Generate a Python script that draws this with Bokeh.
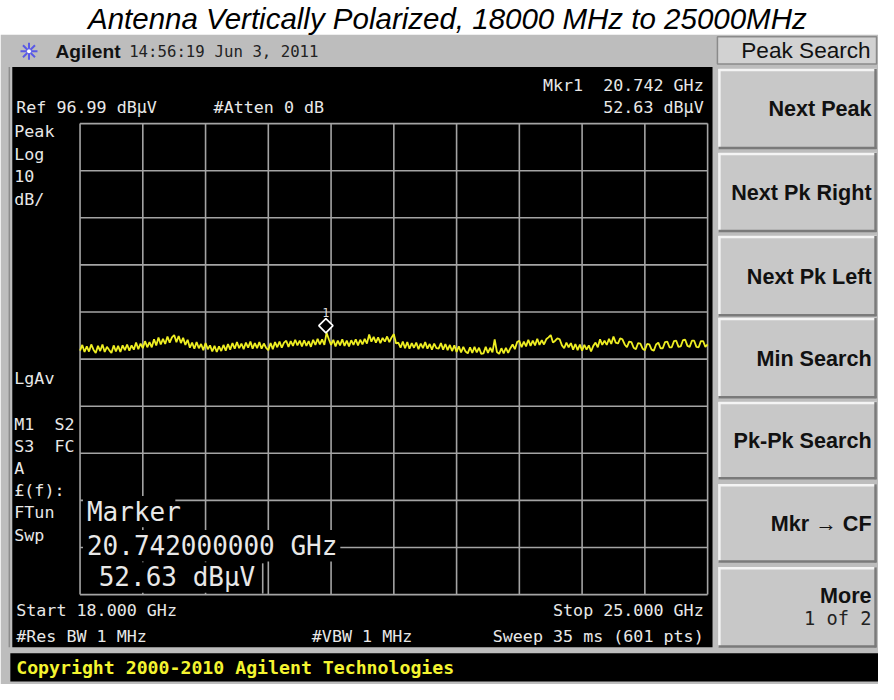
import numpy as np
from bokeh.plotting import figure
from bokeh.models import Range1d, Label
from bokeh.embed import file_html
from bokeh.resources import INLINE

# ---------------- data ----------------
title_text = "Antenna Vertically Polarized, 18000 MHz to 25000MHz"
freq_start = 18.0          # GHz
freq_stop = 25.0           # GHz
ref_level = 96.99          # dBuV (top of grid)
db_per_div = 10.0
n_div = 10
marker_freq = 20.742       # GHz
marker_level = 52.63       # dBuV
sweep_points = 601

# trace (dBuV), evenly spaced sweep points 18 -> 25 GHz (0.025 GHz apart)
trace_level = [
    48.8, 50.0, 48.5, 49.7, 48.6, 50.1, 49.0, 48.3, 49.8, 48.7, 50.1, 48.5, 49.6, 48.9, 48.3, 49.9, 48.6, 49.8, 48.5, 49.9,
    48.9, 50.1, 48.8, 49.9, 49.0, 50.5, 49.1, 50.3, 49.3, 50.8, 49.5, 50.6, 49.5, 51.2, 49.9, 51.6, 50.1, 51.3, 50.2, 51.8,
    50.5, 51.6, 52.1, 50.6, 51.9, 50.4, 51.5, 50.0, 51.1, 49.4, 50.5, 49.2, 50.6, 49.3, 50.2, 48.9, 50.4, 49.1, 49.9, 48.6,
    49.8, 48.5, 49.7, 48.7, 50.0, 48.8, 50.2, 49.0, 50.4, 49.2, 50.6, 49.3, 50.3, 49.1, 50.5, 49.4, 50.7, 49.2, 50.4, 49.3,
    50.6, 49.2, 50.3, 49.4, 48.9, 50.4, 49.1, 50.6, 49.5, 50.7, 49.4, 50.5, 50.9, 49.6, 50.8, 49.8, 51.1, 49.9, 50.9, 49.7,
    51.0, 49.8, 50.8, 49.6, 51.1, 50.0, 51.3, 50.1, 51.2, 50.0, 52.6, 51.2, 50.0, 51.1, 49.7, 50.9, 49.9, 51.2, 49.8, 50.9,
    49.7, 51.0, 50.0, 51.2, 49.9, 51.1, 50.1, 51.3, 50.3, 52.2, 50.7, 51.7, 50.5, 51.6, 50.4, 51.5, 50.7, 51.8, 50.6, 51.6,
    52.3, 50.3, 50.5, 49.4, 50.7, 49.3, 50.6, 49.2, 50.4, 49.4, 50.5, 49.1, 50.3, 49.3, 50.6, 49.2, 50.2, 49.0, 50.3, 49.3,
    49.2, 50.4, 49.0, 50.2, 48.9, 50.0, 48.7, 49.9, 48.5, 49.7, 48.4, 49.6, 48.6, 48.2, 49.5, 48.3, 49.6, 48.4, 49.4, 48.1,
    48.2, 49.6, 48.3, 49.4, 48.4, 51.2, 48.5, 48.1, 49.3, 48.2, 49.4, 48.3, 49.3, 50.1, 49.1, 50.6, 50.9, 49.5, 50.7, 49.7,
    51.1, 49.8, 50.9, 49.9, 51.3, 50.0, 51.0, 50.1, 51.2, 51.6, 52.1, 50.5, 50.9, 51.4, 51.2, 49.9, 49.3, 50.5, 49.5, 50.4,
    49.0, 50.2, 48.9, 50.1, 48.8, 50.0, 49.0, 49.9, 48.6, 49.8, 50.5, 49.5, 51.2, 50.0, 50.9, 50.0, 51.3, 50.2, 51.8, 50.5,
    50.3, 51.4, 51.2, 50.1, 49.5, 50.7, 50.6, 49.4, 49.1, 50.4, 50.3, 49.2, 48.9, 50.2, 50.1, 49.0, 48.8, 50.1, 50.5, 49.3,
    49.3, 50.6, 50.7, 49.5, 49.5, 50.8, 50.9, 49.6, 49.7, 51.0, 51.1, 49.8, 49.6, 50.9, 50.9, 49.6, 49.5, 50.8, 50.8, 49.6,
    50.1,
]

header_brand = "Agilent"
header_time = "14:56:19"
header_date = "Jun 3, 2011"
menu_title = "Peak Search"
softkeys = ["Next Peak", "Next Pk Right", "Next Pk Left", "Min Search",
            "Pk-Pk Search", "Mkr \u2192 CF", "More"]
softkey_sub = "1 of 2"
NB = "\u00a0"
left_annotations = ["Peak", "Log", "10", "dB/", "LgAv", f"M1{NB}{NB}S2", f"S3{NB}{NB}FC", "A",
                    "\u00a3(f):", "FTun", "Swp"]
copyright_text = "Copyright 2000-2010 Agilent Technologies"

# ---------------- layout (reference pixels) ----------------
REF_W, REF_H = 894, 700
W, H = 878, 684
GRID_L, GRID_R, GRID_T, GRID_B = 81, 720, 126, 608
FS = W / REF_W  # font scale

xpp = (freq_stop - freq_start) / (GRID_R - GRID_L)
span_db = db_per_div * n_div
ypp = span_db / (GRID_B - GRID_T)
bottom_level = ref_level - span_db

p = figure(width=W, height=H,
           x_range=Range1d(freq_start - GRID_L * xpp, freq_stop + (REF_W - GRID_R) * xpp),
           y_range=Range1d(bottom_level - (REF_H - GRID_B) * ypp, ref_level + GRID_T * ypp),
           output_backend="svg", toolbar_location=None,
           x_axis_location=None, y_axis_location=None, min_border=0)
p.extra_x_ranges = {"px": Range1d(0, REF_W)}
p.extra_y_ranges = {"py": Range1d(REF_H, 0)}
p.grid.visible = False
p.outline_line_color = None
p.background_fill_color = "white"
p.border_fill_color = "white"
p.title.visible = False

PX = dict(x_range_name="px", y_range_name="py")


def box(l, r, t, b, color, line=None, lw=1):
    p.quad(left=[l], right=[r], top=[t], bottom=[b], fill_color=color,
           line_color=line, line_width=lw, **PX)


def seg(x0, y0, x1, y1, color, lw=1.0):
    p.segment(x0=[x0], y0=[y0], x1=[x1], y1=[y1], line_color=color, line_width=lw, **PX)


def label(x, y, text, size, color, font="DejaVu Sans Mono", style="normal",
          align="left", baseline="middle"):
    p.add_layout(Label(x=x, y=y, text=text, text_font=font, text_font_size=f"{size * FS:.1f}px",
                       text_color=color, text_font_style=style, text_align=align,
                       text_baseline=baseline, **PX))


# instrument body
box(0, REF_W, 35, REF_H, "#bdbdbd")
seg(9, 68, 9, 662, "#8c8c8c", 1.5)
# screen
box(12, 725, 68, 662, "#000000")
# copyright bar
box(10, REF_W, 668, 697, "#000000")

# header
p.scatter(x=[29], y=[52], marker="asterisk", size=17, line_color="#5a5ae6", line_width=2, **PX)
p.scatter(x=[29], y=[52], marker="circle", size=5, fill_color="white", line_color="#5a5ae6", **PX)
label(56, 52, header_brand, 19.5, "#111111", font="Liberation Sans", style="bold")
label(131, 52, header_time, 16, "#222222")
label(218, 52, header_date, 16, "#222222")

# menu title
box(730, 892, 37, 65, "#d2d2d2", line="#8a8a8a", lw=1.5)
label(886, 51, menu_title, 23, "#111111", font="Liberation Sans", align="right")

# softkeys
key_top = [70, 156, 241, 325, 411, 495, 580]
key_bot = [152, 237, 323, 407, 490, 575, 662]
for t, b, name in zip(key_top, key_bot, softkeys):
    box(731, 892, t, b, "#c8c8c8")
    seg(731, t + 1, 892, t + 1, "#f4f4f4", 2.5)
    seg(732, t, 732, b, "#f4f4f4", 2.5)
    seg(731, b - 1, 892, b - 1, "#7a7a7a", 2.5)
    seg(891, t, 891, b, "#7a7a7a", 2.5)
    if name == "More":
        label(887, (t + b) / 2 - 12, name, 22, "#111111", font="Liberation Sans", style="bold", align="right")
        label(887, (t + b) / 2 + 11, softkey_sub, 19, "#222222", align="right")
    else:
        label(887, (t + b) / 2, name, 22, "#111111", font="Liberation Sans", style="bold", align="right")

# graticule (10 x 10 divisions)
gx = [freq_start + i * (freq_stop - freq_start) / n_div for i in range(n_div + 1)]
gy = [ref_level - j * db_per_div for j in range(n_div + 1)]
p.segment(x0=gx, y0=[bottom_level] * len(gx), x1=gx, y1=[ref_level] * len(gx),
          line_color="#a4a4a4", line_width=1.6)
p.segment(x0=[freq_start] * len(gy), y0=gy, x1=[freq_stop] * len(gy), y1=gy,
          line_color="#a4a4a4", line_width=1.6)

# trace
trace_freq = np.linspace(freq_start, freq_stop, len(trace_level))
p.line(trace_freq, trace_level, line_color="#eeee22", line_width=1.8)

# marker 1
p.scatter(x=[marker_freq], y=[marker_level + 7 * ypp], marker="square", angle=np.pi / 4, size=10,
          fill_color="black", line_color="white", line_width=1.7)
p.add_layout(Label(x=marker_freq, y=marker_level + 21 * ypp, text="1", text_font="DejaVu Sans Mono",
                   text_font_size=f"{12 * FS:.1f}px", text_color="#dddddd", text_align="center",
                   text_baseline="middle"))

# screen annotations
TXT = "#e8e8e8"
SZ = 17
label(716, 86, f"Mkr1{NB}{NB}{marker_freq:.3f} GHz", SZ, TXT, align="right")
label(716, 109, f"{marker_level:.2f} dB\u03bcV", SZ, TXT, align="right")
label(16, 109, f"Ref {ref_level:.2f} dB\u03bcV", SZ, TXT)
label(217, 109, "#Atten 0 dB", SZ, TXT)
ann_y = [134, 157, 180, 203, 386, 433, 456, 478, 501, 523, 547]
for yy, t in zip(ann_y, left_annotations):
    label(14, yy, t, SZ, TXT)

# marker readout block (black backing over graticule)
box(84, 178, 507, 539, "#000000")
box(84, 346, 542, 574, "#000000")
box(84, 267, 575, 606, "#000000")
seg(267, 576, 267, 607, "#a4a4a4", 1.6)
label(88, 523, "Marker", 26.5, TXT)
label(88, 558, f"{marker_freq:.9f} GHz", 26.5, TXT)
label(100, 590, f"{marker_level:.2f} dB\u03bcV", 26.5, TXT)

label(16, 624, f"Start {freq_start:.3f} GHz", SZ, TXT)
label(716, 624, f"Stop {freq_stop:.3f} GHz", SZ, TXT, align="right")
label(16, 650, "#Res BW 1 MHz", SZ, TXT)
label(317, 650, "#VBW 1 MHz", SZ, TXT)
label(716, 650, f"Sweep 35 ms ({sweep_points} pts)", SZ, TXT, align="right")

label(16, 683, copyright_text, 18.5, "#f4f430", style="bold")

# title
label(455, 18, title_text, 30, "#000000", font="Liberation Sans", style="italic", align="center")

open("out.html", "w").write(file_html(p, INLINE))
